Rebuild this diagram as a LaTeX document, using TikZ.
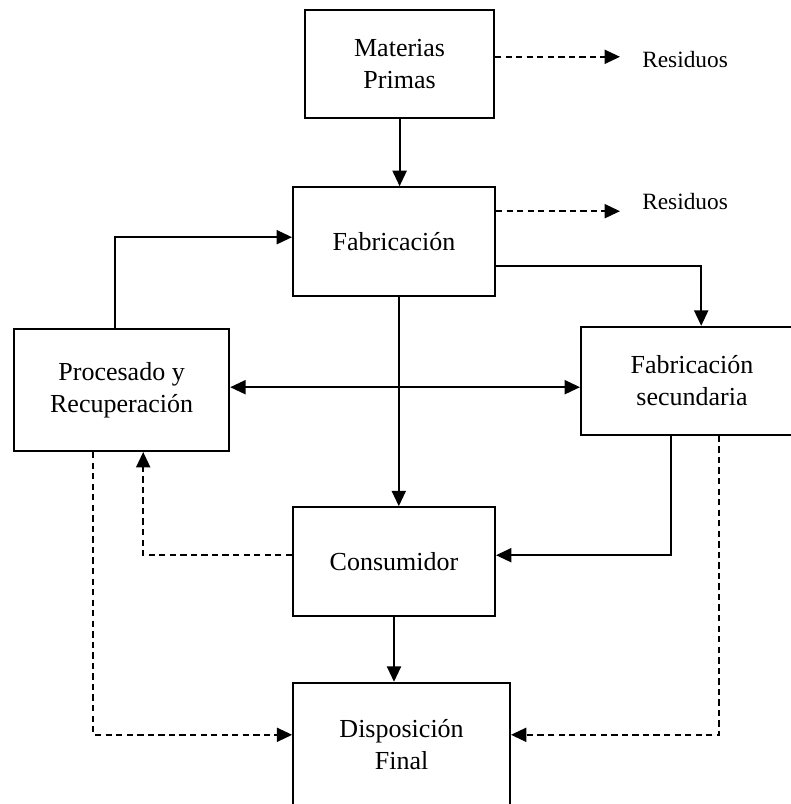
\documentclass[tikz,border=0pt]{standalone}
\usepackage{fontspec}
\setmainfont{Liberation Serif}
\usetikzlibrary{arrows.meta,calc}

\begin{document}
\begin{tikzpicture}[>={Triangle[length=11pt,width=10pt]},
    caja/.style={draw, line width=1.4pt, inner sep=0pt, align=center,
        font=\fontsize{18.5}{22.5}\selectfont},
    flecha/.style={line width=1.4pt, ->},
    discont/.style={flecha, dash pattern=on 4.5pt off 3pt},
    resid/.style={anchor=west, inner sep=0pt, font=\fontsize{16.6}{20}\selectfont}]
    \useasboundingbox (0,0) rectangle (19.75,-20.1);

    \node[caja, minimum width=4.72cm, minimum height=2.7cm] (mat) at (9.99,-1.6) {Materias\\Primas};
    \node[caja, minimum width=5.05cm, minimum height=2.72cm] (fab) at (9.85,-6.04) {Fabricación};
    \node[caja, minimum width=5.38cm, minimum height=3.05cm] (proc) at (3.04,-9.75) {Procesado y\\Recuperación};
    \node[caja, minimum width=5.55cm, minimum height=2.7cm] (sec) at (17.3,-9.52) {Fabricación\\secundaria};
    \node[caja, minimum width=5.05cm, minimum height=2.72cm] (cons) at (9.85,-14.04) {Consumidor};
    \node[caja, minimum width=5.42cm, minimum height=3.1cm] (disp) at (10.04,-18.62) {Disposición\\Final};

    \node[resid] (res1) at (16.05,-1.5) {Residuos};
    \node[resid] (res2) at (16.05,-5.05) {Residuos};
    \coordinate (r1) at (15.5,-1.42);
    \coordinate (r2) at (15.5,-5.28);
    \coordinate (pe) at ($(proc.east)+(0,0.07)$);

    % flujo principal
    \draw[flecha] (mat.south) -- (mat.south |- fab.north);
    \draw[flecha] ($(fab.south)+(0.12,0)$) -- ($(cons.north)+(0.12,0)$);
    \draw[flecha] (cons.south) -- (cons.south |- disp.north);
    \draw[flecha] ($(fab.east)+(0,-0.61)$) -| ($(sec.north)+(0.23,0)$);
    \draw[flecha] ($(proc.north)+(-0.16,0)$) |- ($(fab.west)+(0,0.11)$);
    \draw[flecha, <->] (pe) -- (pe -| sec.west);
    \draw[flecha] ($(sec.south)+(-0.52,0)$) |- ($(cons.east)+(0,0.16)$);

    % residuos y retornos
    \draw[discont] (mat.east |- r1) -- (r1);
    \draw[discont] (fab.east |- r2) -- (r2);
    \draw[discont] ($(cons.west)+(0,0.16)$) -| ($(proc.south)+(0.54,0)$);
    \draw[discont] ($(proc.south)+(-0.71,0)$) |- ($(disp.west)+(0,0.25)$);
    \draw[discont] ($(sec.south)+(0.68,0)$) |- ($(disp.east)+(0,0.25)$);
\end{tikzpicture}
\end{document}
